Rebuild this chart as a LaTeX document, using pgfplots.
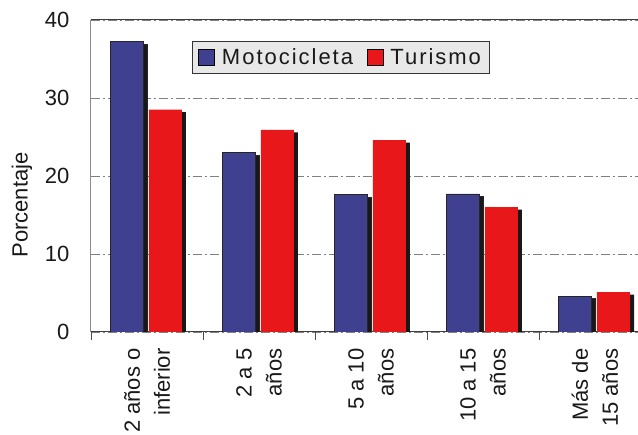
\documentclass[border=0pt]{standalone}
\usepackage{fontspec}
\setmainfont{Liberation Sans}
\usepackage{pgfplots}
\pgfplotsset{compat=1.18}
\usetikzlibrary{shadows,calc}

\definecolor{motoblue}{RGB}{64,64,144}
\definecolor{turred}{RGB}{232,24,26}
\definecolor{shadowblk}{RGB}{24,24,24}
\definecolor{gridgray}{RGB}{128,128,128}
\definecolor{legendfill}{RGB}{232,232,232}

\pgfplotsset{
  shadowbar/.style={drop shadow={shadow xshift=4pt, shadow yshift=-2.5pt, fill=shadowblk, opacity=1}},
}

\begin{document}
\begin{tikzpicture}
\begin{axis}[
  name=ax, anchor=south west,
  scale only axis, width=560pt, height=312pt,
  xmin=-0.5, xmax=4.5, ymin=0, ymax=40,
  xtick={0,1,2,3,4},
  xticklabels={{2 años o\\inferior},{2 a 5\\años},{5 a 10\\años},{10 a 15\\años},{Más de\\15 años}},
  minor xtick={-0.5,0.5,1.5,2.5,3.5,4.5},
  ytick={0,10,20,30,40},
  xtick pos=lower, ytick pos=left,
  major tick length=0pt, minor tick length=8pt, tick align=outside,
  minor tick style={draw=black!70, line width=0.9pt},
  ymajorgrids,
  major grid style={gridgray, line width=0.8pt, dash pattern=on 9pt off 3pt on 2pt off 3pt},
  separate axis lines,
  x axis line style={draw=black!75, line width=1pt},
  y axis line style={draw=black!45, line width=1pt},
  /pgf/number format/assume math mode=true,
  yticklabel style={font=\fontsize{22}{26}\selectfont, text=black!90},
  yticklabel shift=18pt,
  xticklabel style={font=\fontsize{22}{30}\selectfont, text=black!90, rotate=90, anchor=east, align=right},
  xticklabel shift=13pt,
  ylabel={Porcentaje},
  every axis y label/.style={at={(rel axis cs:-0.1232,0.407)}, rotate=90, anchor=center, font=\fontsize{22}{26}\selectfont, text=black!90},
  legend columns=2,
  legend style={at={(rel axis cs:0.180,0.933)}, anchor=north west,
    draw=black!80, line width=0.8pt, fill=legendfill,
    font=\fontsize{22}{26}\selectfont\addfontfeature{LetterSpace=9}, text=black!90,
    inner xsep=6pt, inner ysep=5.5pt,
    /tikz/every even column/.append style={column sep=12pt}},
  legend image code/.code={\draw[#1] (0pt,-8pt) rectangle (16pt,8pt); \path (21pt,0pt);},
]
\addlegendimage{fill=motoblue, draw=black, line width=0.8pt}
\addlegendentry{Motocicleta}
\addlegendimage{fill=turred, draw=none}
\addlegendentry{Turismo}

% Motocicleta
\addplot[forget plot, ybar, bar width=33pt, bar shift=-20pt, fill=motoblue, draw=black!85, line width=0.8pt, shadowbar]
  coordinates {(0,37.2) (1,23.0) (2,17.6) (3,17.7) (4,4.6)};
% Turismo
\addplot[forget plot, ybar, bar width=33pt, bar shift=18.5pt, fill=turred, draw=none, shadowbar]
  coordinates {(0,28.5) (1,25.9) (2,24.6) (3,16.0) (4,5.1)};
\end{axis}
\pgfresetboundingbox
\useasboundingbox ($(ax.south west)+(-91pt,-103pt)$) rectangle ++(638pt,435pt);
\end{tikzpicture}
\end{document}
